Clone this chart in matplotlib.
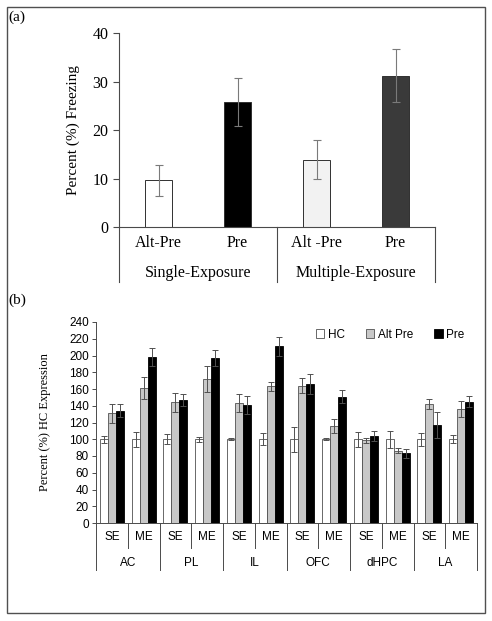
import matplotlib.pyplot as plt
import matplotlib.transforms as mtransforms
from matplotlib.patches import Rectangle
import numpy as np

plt.rcParams['font.family'] = ['Liberation Serif', 'DejaVu Serif']

# ---- data: panel (a) ----
a_labels = ['Alt-Pre', 'Pre', 'Alt -Pre', 'Pre']
a_groups = ['Single-Exposure', 'Multiple-Exposure']
a_values = [9.6, 25.8, 13.9, 31.2]
a_errors = [3.2, 5.0, 4.1, 5.4]
a_colors = ['white', 'black', '#f2f2f2', '#3a3a3a']

# ---- data: panel (b) ----
regions = ['AC', 'PL', 'IL', 'OFC', 'dHPC', 'LA']
exposures = ['SE', 'ME']
hc_vals = [100, 100, 100, 100, 100, 100, 100, 100, 100, 100, 100, 100]
hc_err = [4, 9, 6, 3, 1, 7, 15, 1, 9, 10, 8, 5]
alt_vals = [131, 161, 144, 172, 143, 163, 164, 116, 99, 86, 142, 136]
alt_err = [11, 13, 11, 15, 11, 5, 9, 8, 3, 3, 6, 10]
pre_vals = [134, 198, 147, 197, 141, 211, 166, 151, 104, 83, 117, 145]
pre_err = [8, 11, 7, 9, 11, 11, 12, 8, 6, 5, 16, 7]

line_col = '#4a4a4a'

fig = plt.figure(figsize=(4.92, 6.21), dpi=100)
fig.patches.append(Rectangle((7/492, 1-613/621), 478/492, 606/621,
                             transform=fig.transFigure, fill=False,
                             edgecolor='#505050', lw=1))
fig.text(8/492, 1-17/621, '(a)', fontsize=11, va='center', ha='left')
fig.text(8/492, 1-300/621, '(b)', fontsize=11, va='center', ha='left')

# ---------------- panel (a) ----------------
ax = fig.add_axes([119/492, 1-227/621, 316/492, 194/621])
xa = np.arange(len(a_values))
ax.bar(xa, a_values, width=0.33, color=a_colors, edgecolor='#303030', lw=0.7)
ax.errorbar(xa, a_values, yerr=a_errors, fmt='none', ecolor='#7a7a7a',
            elinewidth=0.8, capsize=3, capthick=0.8)
ax.set_xlim(-0.5, 3.5)
ax.set_ylim(0, 40)
ax.set_yticks([0, 10, 20, 30, 40])
ax.tick_params(axis='y', labelsize=11.5, length=4, color=line_col, width=0.8)
ax.set_xticks(xa)
ax.set_xticklabels(a_labels, fontsize=11.5)
ax.tick_params(axis='x', length=0, pad=6)
for s in ['top', 'right']:
    ax.spines[s].set_visible(False)
for s in ['left', 'bottom']:
    ax.spines[s].set_color(line_col)
    ax.spines[s].set_linewidth(0.8)
ax.set_ylabel('Percent (%) Freezing', fontsize=11, labelpad=9)
trans = mtransforms.blended_transform_factory(ax.transData, ax.transAxes)
for xv in [-0.5, 1.5, 3.5]:
    ax.plot([xv, xv], [0, -0.284], transform=trans, color=line_col, lw=0.8,
            clip_on=False)
for k, g in enumerate(a_groups):
    ax.text(2*k + 0.5, -0.237, g, transform=trans, ha='center', va='center',
            fontsize=11.5)

# ---------------- panel (b) ----------------
sans = ['Liberation Sans', 'DejaVu Sans']
bx = fig.add_axes([96/492, 1-523/621, 381/492, 201/621])
xb = np.arange(len(hc_vals))
w = 0.25
ekw = dict(fmt='none', ecolor='#505050', elinewidth=0.7, capsize=2, capthick=0.7)
bx.bar(xb - w, hc_vals, width=w, color='white', edgecolor='#505050', lw=0.6,
       label='HC')
bx.bar(xb, alt_vals, width=w, color='#c8c8c8', edgecolor='#505050', lw=0.6,
       label='Alt Pre')
bx.bar(xb + w, pre_vals, width=w, color='black', edgecolor='black', lw=0.6,
       label='Pre')
bx.errorbar(xb - w, hc_vals, yerr=hc_err, **ekw)
bx.errorbar(xb, alt_vals, yerr=alt_err, **ekw)
bx.errorbar(xb + w, pre_vals, yerr=pre_err, **ekw)
bx.set_xlim(-0.5, 11.5)
bx.set_ylim(0, 240)
bx.set_yticks(np.arange(0, 241, 20))
for lab in bx.get_yticklabels():
    lab.set_family(sans)
bx.tick_params(axis='y', labelsize=8.5, length=3, color=line_col, width=0.7,
               pad=2)
bx.set_xticks(xb)
bx.set_xticklabels(exposures * len(regions), fontsize=8.5, family=sans)
bx.tick_params(axis='x', length=0, pad=6)
for s in ['top', 'right']:
    bx.spines[s].set_visible(False)
for s in ['left', 'bottom']:
    bx.spines[s].set_color(line_col)
    bx.spines[s].set_linewidth(0.7)
bx.set_ylabel('Percent (%) HC Expression', fontsize=9, labelpad=13)
transb = mtransforms.blended_transform_factory(bx.transData, bx.transAxes)
for k in range(len(regions) + 1):
    xv = 2*k - 0.5
    bx.plot([xv, xv], [0, -0.234], transform=transb, color=line_col, lw=0.7,
            clip_on=False)
for k in range(len(regions)):
    xv = 2*k + 0.5
    bx.plot([xv, xv], [0, -0.124], transform=transb, color=line_col, lw=0.7,
            clip_on=False)
    bx.text(xv, -0.199, regions[k], transform=transb, ha='center', va='center',
            fontsize=8.5, family=sans)
leg = bx.legend(ncol=3, loc='upper right', bbox_to_anchor=(0.995, 1.02),
                frameon=False, handlelength=0.7, handleheight=0.7,
                handletextpad=0.3, columnspacing=1.8,
                prop={'family': sans, 'size': 8.5})

fig.savefig('out.png', dpi=100)
